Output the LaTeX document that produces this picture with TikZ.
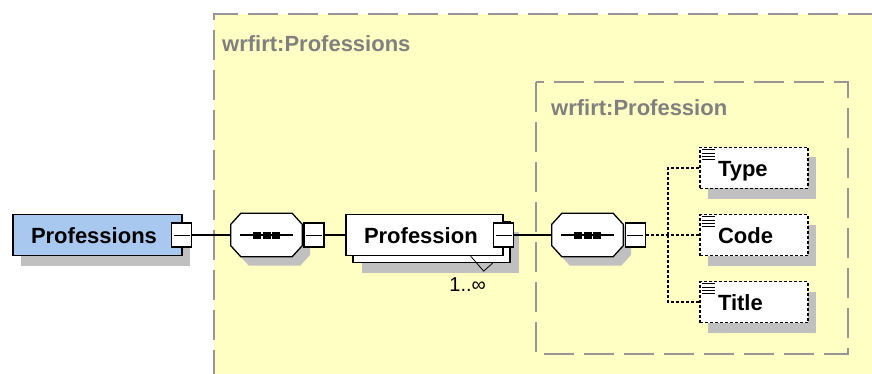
\documentclass[tikz,border=0pt]{standalone}
\usepackage{fontspec}
\setmainfont{Liberation Sans}
\usetikzlibrary{shapes,shadows,positioning}
\definecolor{groupyellow}{RGB}{255,255,196}
\definecolor{rootblue}{RGB}{168,200,240}
\definecolor{shadowgray}{RGB}{192,192,192}
\definecolor{framegray}{RGB}{150,150,150}
\definecolor{labelgray}{RGB}{128,128,128}
\tikzset{
    element/.style = {draw, rectangle, fill=white, line width=1.3pt,
        minimum height=41pt, inner xsep=18pt, inner ysep=0pt,
        text width=#1, align=left, text height=17pt, text depth=0pt,
        font=\bfseries\fontsize{22}{24}\selectfont},
    shadowed/.style = {drop shadow={shadow xshift=8pt, shadow yshift=-10pt,
        fill=shadowgray, opacity=1}},
    stacked/.style = {drop shadow={shadow xshift=16pt, shadow yshift=-17pt,
        fill=shadowgray, opacity=1},
        copy shadow={shadow xshift=7pt, shadow yshift=-7pt,
        draw=black, fill=white, line width=1.3pt}},
    attribute/.style = {element=72pt, shadowed, dash pattern=on 3pt off 2pt,
        path picture={
            \foreach \k in {0,...,3}
                \draw [solid, black, line width=0.9pt] ([xshift=2pt, yshift={-2.3pt-\k*3.3pt}]path picture bounding box.north west) -- ++(13pt,0pt);}},
    sequence/.style = {rectangle, minimum width=71pt, minimum height=43pt, inner sep=0pt},
    octagon/.style = {insert path={([xshift=10pt]#1.north west) -- ([xshift=-10pt]#1.north east)
        -- ([yshift=-11pt]#1.north east) -- ([yshift=11pt]#1.south east)
        -- ([xshift=-10pt]#1.south east) -- ([xshift=10pt]#1.south west)
        -- ([yshift=11pt]#1.south west) -- ([yshift=-11pt]#1.north west) -- cycle}},
    collapse/.style = {draw, rectangle, fill=white, line width=1.3pt,
        minimum width=20pt, minimum height=24pt, inner sep=0pt,
        path picture={\draw [black, line width=1pt] ([xshift=2pt]path picture bounding box.west) -- ([xshift=-2pt]path picture bounding box.east);}},
    link/.style = {draw, line width=1.2pt},
    choice/.style = {draw, line width=1.2pt, dash pattern=on 3pt off 2pt},
    groupframe/.style = {draw=framegray, line width=1.5pt, dash pattern=on 30pt off 10pt},
    grouplabel/.style = {anchor=west, inner sep=0pt, text=labelgray,
        font=\bfseries\fontsize{22}{24}\selectfont},
    mult/.style = {inner sep=0pt, font=\fontsize{20}{22}\selectfont}
}

\begin{document}
\begin{tikzpicture}[x=1pt, y=-1pt, node distance=160pt]
        \useasboundingbox (0,0) rectangle (872,374);
        % groups
        \fill [groupyellow] (214,14) rectangle (880,380);
        \draw [groupframe] (214,380) -- (214,14) -- (880,14);
        \draw [groupframe] (536,82) rectangle (848,354);
        \node [grouplabel] (outerlabel) at (222,44) {wrfirt:Professions};
        \node [grouplabel] (innerlabel) at (551,108) {wrfirt:Profession};
        % elements
        \node [element=133pt, shadowed, fill=rootblue] (root) at (97.5,235) {Professions};
        \node [collapse] (rootm) at ([xshift=-1pt]root.east) {};
        \node [sequence, right of=root, node distance=169pt] (seqa) {};
        \node [element=121pt, stacked, right of=seqa, node distance=158pt] (prof) {Profession};
        \node [collapse] (profm) at (prof.east) {};
        \node [sequence, right of=prof, node distance=163pt] (seqb) {};
        % sequence compositors
        \foreach \s in {seqa,seqb} {
            \fill [shadowgray, transform canvas={xshift=8pt, yshift=-9pt}] [octagon=\s];
            \draw [fill=white, line width=1.3pt] [octagon=\s];
            \draw [line width=1.2pt] ([xshift=9pt]\s.west) -- ([xshift=-9pt]\s.east);
            \foreach \dx in {-9.5,0,9.5}
                \fill ([xshift=\dx pt]\s.center) ++(-4pt,-3.5pt) rectangle ++(8pt,7pt);
        }
        \node [collapse, right=1pt of seqa] (seqam) {};
        \node [collapse, right=1.5pt of seqb] (seqbm) {};
        \node [attribute, right of=seqb, node distance=166.5pt] (code) {Code};
        \node [attribute, above of=code, node distance=67pt] (type) {Type};
        \node [attribute, below of=code, node distance=67pt] (title) {Title};
        \node [mult] (mult) at ([xshift=-36pt, yshift=-28pt]prof.south east) {1..∞};
        \coordinate (fork) at ([xshift=22pt]seqbm.east);
        % connectors
        \draw [link] (rootm) -- (seqa);
        \draw [link] (seqam) -- (prof);
        \draw [link] (profm) -- (seqb);
        \draw [choice] (seqbm) -- (code);
        \draw [choice] (fork) |- (type);
        \draw [choice] (fork) |- (title);
        \draw [line width=0.8pt] ([xshift=-33pt]prof.south east) -- ++(13pt,-15pt) -- ++(9pt,8pt);
\end{tikzpicture}
\end{document}
